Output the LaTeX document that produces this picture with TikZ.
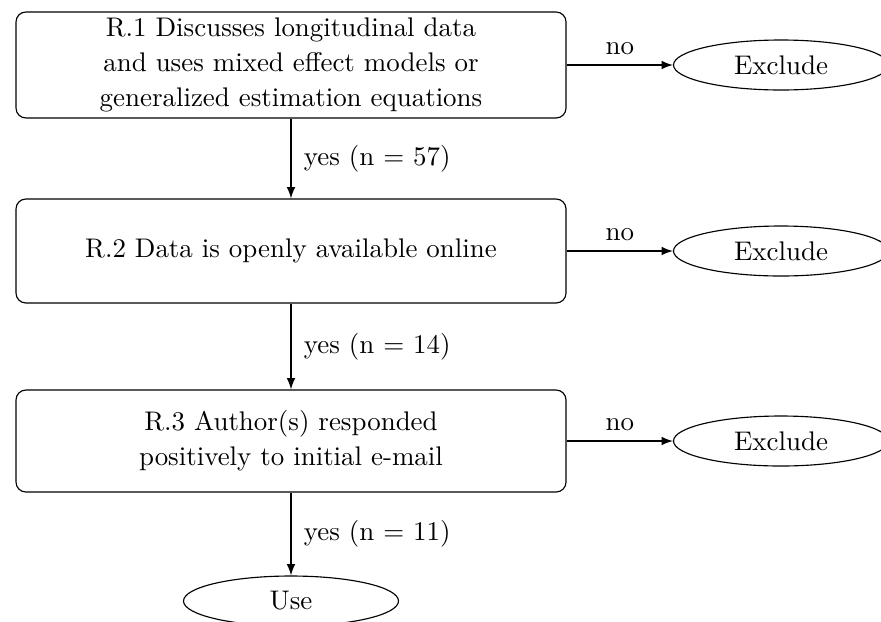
\documentclass[tikz,border=0pt]{standalone}
\usetikzlibrary{shapes.geometric,arrows}
\begin{document}
\begin{tikzpicture}[x=0.3528pt,y=-0.3528pt,
  every node/.style={font=\fontsize{9.5}{12.3}\selectfont},
  crit/.style={draw, rounded corners=3.5pt, align=center, minimum width=550*0.3528pt, text width=180pt, inner sep=0pt, line width=0.4pt},
  endnode/.style={draw, ellipse, minimum width=215*0.3528pt, minimum height=50*0.3528pt, inner sep=0pt, line width=0.4pt},
  flow/.style={->, >=latex, line width=0.4pt}]
\useasboundingbox (0,0) rectangle (881,621);
\clip (0,0) rectangle (881,621);
\node[crit, minimum height=106*0.3528pt] (b1) at (291,65) {R.1 Discusses longitudinal data\\and uses mixed effect models or\\generalized estimation equations};
\node[crit, minimum height=104*0.3528pt] (b2) at (291,251) {R.2 Data is openly available online};
\node[crit, minimum height=102*0.3528pt] (b3) at (291,441) {R.3 Author(s) responded\\positively to initial e-mail};
\node[endnode] (e1) at (781,65) {Exclude};
\node[endnode] (e2) at (781,251) {Exclude};
\node[endnode] (e3) at (781,441) {Exclude};
\node[endnode] (use) at (291,601) {Use};
\draw[flow] (b1) -- node[right, xshift=1pt] {yes (n = 57)} (b2);
\draw[flow] (b2) -- node[right, xshift=1pt] {yes (n = 14)} (b3);
\draw[flow] (b3) -- node[right, xshift=1pt] {yes (n = 11)} (use);
\draw[flow] (b1) -- node[above] {no} (e1);
\draw[flow] (b2) -- node[above] {no} (e2);
\draw[flow] (b3) -- node[above] {no} (e3);
\end{tikzpicture}
\end{document}
